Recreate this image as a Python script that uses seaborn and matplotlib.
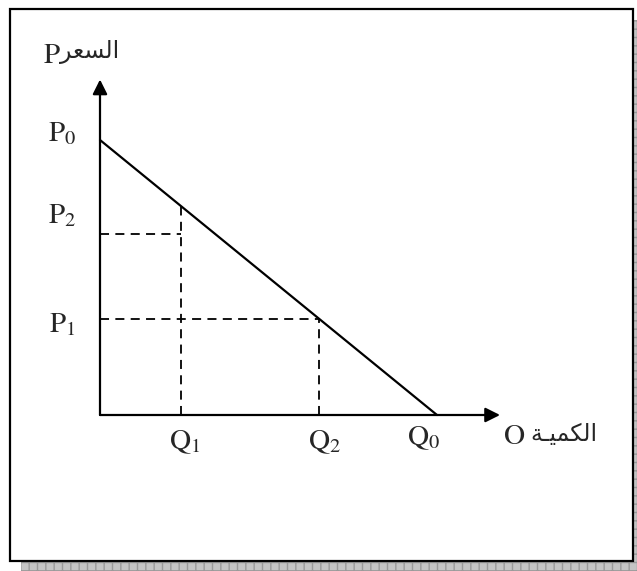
import numpy as np
import pandas as pd
import seaborn as sns
import matplotlib.pyplot as plt
from matplotlib.patches import Rectangle

# --- dados do diagrama (unidades arbitrárias) ---
Q_LABELS = [r'$\mathrm{Q}_1$', r'$\mathrm{Q}_2$', r'$\mathrm{Q}_0$']
Q_VALUES = [2.4, 6.5, 10.0]          # Q1, Q2, Q0
P_LABELS = [r'$\mathrm{P}_0$', r'$\mathrm{P}_2$', r'$\mathrm{P}_1$']
P_VALUES = [10.0, 6.6, 3.5]          # P0, P2, P1
Q_AXIS_MAX = 11.87
P_AXIS_MAX = 12.2
# texto árabe em formas de apresentação (ordem visual)
ARABE_PRECO = '\uFEAE\uFECC\uFEB4\uFEDF\uFE8D'                # السعر
ARABE_QTD = '\uFE94\u0640\uFEF4\uFEE4\uFEDC\uFEDF\uFE8D'      # الكمية

sns.set_theme(style='white')
plt.rcParams['mathtext.fontset'] = 'stix'
plt.rcParams['font.family'] = ['Liberation Serif', 'DejaVu Sans']

W, H = 637, 571
fig = plt.figure(figsize=(W / 100, H / 100), dpi=100)
ax = fig.add_axes([0, 0, 1, 1])
sx, sy = 33.7, 27.5                  # pixels por unidade
ox, oy = 100, 415                    # origem em pixels
ax.set_xlim(-ox / sx, (W - ox) / sx)
ax.set_ylim(-(H - oy) / sy, oy / sy)
ax.axis('off')

# moldura e sombra
for rect in [(21 / W, 0, 1, 9 / H), (634 / W, 0, 3 / W, (H - 20) / H)]:
    ax.add_patch(Rectangle(rect[:2], rect[2], rect[3], transform=fig.transFigure,
                           facecolor='#c4c4c4', edgecolor='#9a9a9a', hatch='++',
                           lw=0, zorder=0, clip_on=False))
ax.add_patch(Rectangle((10 / W, (H - 561) / H), 623 / W, 552 / H,
                       transform=fig.transFigure, facecolor='white',
                       edgecolor='black', lw=1.6, zorder=1, clip_on=False))

q0 = Q_VALUES[2]
p0 = P_VALUES[0]
demanda = pd.DataFrame({'Q': [0, q0], 'P': [p0, 0]})
sns.lineplot(data=demanda, x='Q', y='P', color='black', lw=1.6, ax=ax, zorder=5)

# eixos com setas
arrow = dict(arrowstyle='-|>', color='black', lw=1.6, mutation_scale=22,
             shrinkA=0, shrinkB=0)
ax.annotate('', xy=(Q_AXIS_MAX, 0), xytext=(0, 0), arrowprops=arrow, zorder=6)
ax.annotate('', xy=(0, P_AXIS_MAX), xytext=(0, 0), arrowprops=arrow, zorder=6)

# linhas tracejadas
dash = dict(color='black', lw=1.3, linestyle=(0, (5, 3.5)), zorder=4)
q1, q2 = Q_VALUES[0], Q_VALUES[1]
p2, p1 = P_VALUES[1], P_VALUES[2]
ax.plot([0, q1], [p2, p2], **dash)
ax.plot([q1, q1], [0, p0 - p0 / q0 * q1], **dash)
ax.plot([0, q2], [p1, p1], **dash)
ax.plot([q2, q2], [0, p1], **dash)

fs = 21
p_offsets = [(-38, 6), (-38, 18), (-38, -6)]
for lab, val, off in zip(P_LABELS, P_VALUES, p_offsets):
    ax.annotate(lab, xy=(0, val), xytext=off, textcoords='offset pixels',
                ha='center', va='center', fontsize=fs, zorder=6)
q_offsets = [(4, -27), (6, -27), (-13, -23)]
for lab, val, off in zip(Q_LABELS, Q_VALUES, q_offsets):
    ax.annotate(lab, xy=(val, 0), xytext=off, textcoords='offset pixels',
                ha='center', va='center', fontsize=fs, zorder=6)

# títulos dos eixos: letra latina + palavra árabe
ax.annotate(r'$\mathrm{P}$', xy=(0, P_AXIS_MAX), xytext=(-48, 24),
            textcoords='offset pixels', ha='center', va='center', fontsize=fs, zorder=6)
ax.annotate(ARABE_PRECO, xy=(0, P_AXIS_MAX), xytext=(-10, 28),
            textcoords='offset pixels', ha='center', va='center', fontsize=17, zorder=6)
ax.annotate(r'$\mathrm{O}$', xy=(Q_AXIS_MAX, 0), xytext=(14, -22),
            textcoords='offset pixels', ha='center', va='center', fontsize=fs, zorder=6)
ax.annotate(ARABE_QTD, xy=(Q_AXIS_MAX, 0), xytext=(64, -20),
            textcoords='offset pixels', ha='center', va='center', fontsize=17, zorder=6)

fig.savefig('out.png', dpi=100)
